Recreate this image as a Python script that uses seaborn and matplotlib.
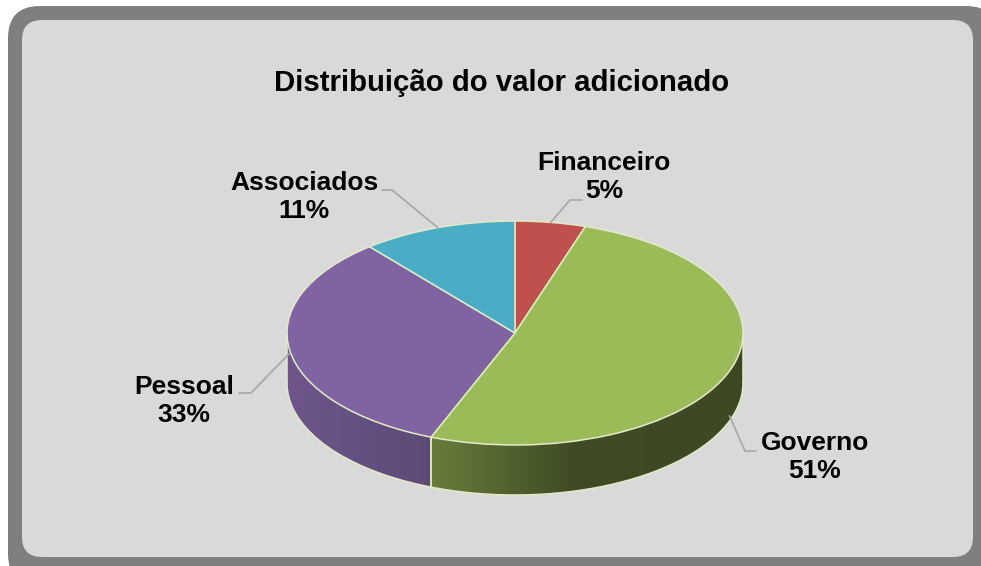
import numpy as np
import matplotlib
matplotlib.use("Agg")
import matplotlib.pyplot as plt
from matplotlib.patches import FancyBboxPatch, Polygon
import matplotlib.colors as mcolors
import seaborn as sns

# data
title = "Distribuição do valor adicionado"
categories = ["Financeiro", "Governo", "Pessoal", "Associados"]
shares = [5, 51, 33, 11]
pct_labels = ["5%", "51%", "33%", "11%"]

# style
colors = ["#C0504D", "#9BBB59", "#8064A2", "#4BACC6"]
edge_col = "#e2eac6"
leader_col = "#a6a6a6"
# side wall shading (x position on ellipse -> brightness factor)
side_shade = {
    "Governo": ([-0.37, 0.26, 1.0], [0.67, 0.40, 0.39]),
    "Pessoal": ([-1.0, -0.37], [0.86, 0.73]),
}

W, H = 981, 566
CX, CY, RX, RY = 515, 333, 228, 112     # pie centre / radii in pixels
DEPTH = 50 / RY

# label layout (pixels): text centre, elbow, end of leader, anchor drop
label_layout = {
    "Financeiro": ((604, 177), (570, 200), (582, 200), 0.0),
    "Governo": ((815, 457), (745, 451), (756, 451), 0.9),
    "Pessoal": ((184, 401), (251, 393), (239, 393), 0.05),
    "Associados": ((304, 197), (392, 190), (382, 190), 0.0),
}

sns.set_theme(style="white")
plt.rcParams["font.family"] = ["Liberation Sans", "DejaVu Sans"]


def to_unit(px, py):
    return (px - CX) / RX, (CY - py) / RY


fig = plt.figure(figsize=(W / 100, H / 100), dpi=100)
fig.patch.set_facecolor("white")

# background frame
bg = fig.add_axes([0, 0, 1, 1])
bg.set_xlim(0, W)
bg.set_ylim(H, 0)
bg.axis("off")
bg.add_patch(FancyBboxPatch((8, 6), 990, 580, boxstyle="round,pad=0,rounding_size=32",
                            fc="#7f7f7f", ec="none"))
bg.add_patch(FancyBboxPatch((22, 20), 951, 537, boxstyle="round,pad=0,rounding_size=20",
                            fc="#d9d9d9", ec="none"))

# pie axes, unit circle mapped to the ellipse
xlim = (-1.5, 1.5)
ylim = (-1.8, 1.4)
left = (CX + xlim[0] * RX) / W
bottom = (H - (CY - ylim[0] * RY)) / H
ax = fig.add_axes([left, bottom, (xlim[1] - xlim[0]) * RX / W, (ylim[1] - ylim[0]) * RY / H])
ax.patch.set_alpha(0)

total = sum(shares)
starts, ends = [], []
a = 90.0
for s in shares:
    starts.append(a)
    a -= 360.0 * s / total
    ends.append(a)

# side walls (front half only), shaded with a horizontal gradient
for cat, col, a0, a1 in zip(categories, colors, starts, ends):
    lo, hi = max(a1, -180.0), min(a0, 0.0)
    if lo >= hi:
        continue
    base = np.array(mcolors.to_rgb(col))
    xs_stop, fs = side_shade[cat]
    t = np.radians(np.linspace(lo, hi, 200))
    top = np.column_stack([np.cos(t), np.sin(t)])
    bot = np.column_stack([np.cos(t[::-1]), np.sin(t[::-1]) - DEPTH])
    wall = Polygon(np.vstack([top, bot]), closed=True, fc="none", ec="none")
    ax.add_patch(wall)
    x0, x1 = np.cos(t).min(), np.cos(t).max()
    gx = np.linspace(x0, x1, 400)
    grad = np.clip(base[None, :] * np.interp(gx, xs_stop, fs)[:, None], 0, 1)
    im = ax.imshow(grad[None, :, :], extent=[x0, x1, -1 - DEPTH, 0.1],
                   aspect="auto", interpolation="bilinear", zorder=1)
    im.set_clip_path(wall)
    for tb in (lo, hi):
        ax.plot([np.cos(np.radians(tb))] * 2,
                [np.sin(np.radians(tb)), np.sin(np.radians(tb)) - DEPTH],
                color=edge_col, lw=1.1, zorder=1.5)

tt = np.radians(np.linspace(-180, 0, 200))
ax.plot(np.cos(tt), np.sin(tt) - DEPTH, color=edge_col, lw=1.1, zorder=1.5)

# top face
ax.pie(shares, colors=colors, startangle=90, counterclock=False, radius=1,
       wedgeprops=dict(edgecolor=edge_col, linewidth=1.1, zorder=2))
ax.set_aspect("auto")
ax.set_xlim(*xlim)
ax.set_ylim(*ylim)
ax.axis("off")

# labels with leader lines
for cat, pct, a0, a1 in zip(categories, pct_labels, starts, ends):
    (tx, ty), elbow, end, drop = label_layout[cat]
    mid = np.radians((a0 + a1) / 2)
    sx, sy = np.cos(mid), np.sin(mid) - drop * DEPTH
    ex, ey = to_unit(*elbow)
    nx, ny = to_unit(*end)
    ax.plot([sx, ex, nx], [sy, ey, ny], color=leader_col, lw=1.2, zorder=3,
            clip_on=False)
    lx, ly = to_unit(tx, ty)
    ax.text(lx, ly, f"{cat}\n{pct}", ha="center", va="center", fontsize=19,
            fontweight="bold", color="black", linespacing=1.22, clip_on=False)

fig.text(502 / W, 1 - 83 / H, title, ha="center", va="center", fontsize=21.2,
         fontweight="bold", color="black")

fig.savefig("out.png", dpi=100)
